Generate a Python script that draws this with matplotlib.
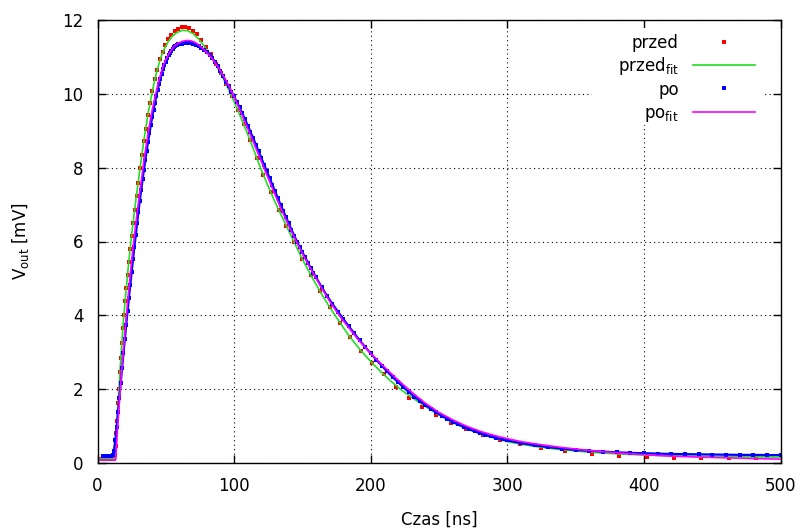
import matplotlib
matplotlib.use('Agg')
import matplotlib.pyplot as plt
from matplotlib.patches import Rectangle
from matplotlib.lines import Line2D

plt.rcParams['font.family'] = ['DejaVu Sans']
plt.rcParams['mathtext.default'] = 'regular'

# przed - measured points
t_przed = [0.5, 2, 4, 6, 8, 9.5, 9.9, 10.3, 10.7, 11.2, 11.7, 12.2, 12.7, 13.3, 13.8, 14.4,
           15.1, 15.7, 16.4, 17.1, 17.9, 18.7, 19.5, 20.3, 21.2, 22.1, 23.1, 24.1, 25.1, 26.2,
           27.4, 28.6, 29.8, 31.1, 32.5, 33.9, 35.3, 36.9, 38.5, 40.2, 41.9, 43.7, 45.6, 47.6,
           49.7, 51.9, 54.1, 56.5, 58.9, 61.5, 64.2, 67.0, 69.9, 72.9, 76.1, 79.4, 82.9, 86.5,
           90.2, 94.1, 98.2, 102.5, 107.0, 111.6, 116.5, 121.5, 126.8, 132.9, 138.3, 144.0,
           150.0, 156.3, 162.9, 169.9, 177.5, 184.8, 192.8, 201.2, 210.0, 218.7, 228.0, 237.5,
           247.8, 258.6, 269.8, 282.0, 294.9, 309.3, 324.9, 342.0, 362, 382, 402, 422, 442,
           462, 482]
v_przed = [0.1, 0.1, 0.1, 0.1, 0.1, 0.1, 0.1, 0.1, 0.11, 0.11, 0.12, 0.14, 0.22, 0.45, 0.8, 1.15,
           1.63, 2.0, 2.47, 2.85, 3.24, 3.65, 4.0, 4.38, 4.75, 5.1, 5.45, 5.8, 6.16, 6.51,
           6.86, 7.22, 7.58, 7.98, 8.35, 8.72, 9.05, 9.42, 9.74, 10.09, 10.4, 10.64, 10.95, 11.14,
           11.33, 11.48, 11.6, 11.69, 11.75, 11.8, 11.8, 11.78, 11.71, 11.61, 11.47, 11.28, 11.08, 10.82,
           10.56, 10.27, 9.95, 9.57, 9.17, 8.75, 8.27, 7.8, 7.33, 6.84, 6.42, 5.98,
           5.52, 5.08, 4.65, 4.23, 3.8, 3.41, 3.04, 2.71, 2.4, 2.05, 1.77, 1.52,
           1.3, 1.09, 0.91, 0.76, 0.62, 0.51, 0.41, 0.33, 0.25, 0.2, 0.16, 0.14, 0.14,
           0.14, 0.14]

# przed_fit
t_przed_fit = [0, 13, 14, 15, 16, 17, 18, 19, 20, 22, 24, 26, 28, 31, 34, 37, 40, 43, 46, 49,
               52, 55, 58, 62, 66, 70, 74, 78, 82, 86, 90, 94, 97.5, 101, 105, 110, 115, 119,
               124, 129, 134, 139, 144, 150, 157, 164, 170, 177, 184, 192, 200, 208, 215, 222,
               230, 240, 250, 260, 270, 280, 290, 300, 310, 320, 330, 340, 355, 370, 385, 400,
               420, 440, 460, 480, 500]
v_przed_fit = [0.12, 0.12, 0.85, 1.55, 2.2, 2.8, 3.35, 3.85, 4.3, 5.1, 5.85, 6.5, 7.1, 7.95, 8.75,
               9.45, 10.05, 10.55, 10.95, 11.23, 11.43, 11.57, 11.66, 11.72, 11.71, 11.63, 11.49,
               11.3, 11.08, 10.83, 10.56, 10.27, 10.0, 9.7, 9.35, 8.9, 8.42, 8.03, 7.58, 7.15,
               6.75, 6.37, 5.98, 5.52, 5.03, 4.58, 4.22, 3.83, 3.45, 3.08, 2.75, 2.45, 2.21, 1.99,
               1.78, 1.53, 1.3, 1.09, 0.93, 0.79, 0.68, 0.58, 0.51, 0.45, 0.4, 0.36, 0.31, 0.27,
               0.24, 0.215, 0.195, 0.18, 0.17, 0.165, 0.16]

# po - measured points
t_po = [4, 5, 6, 7, 8, 9, 10, 11, 12, 13, 14, 15, 16, 17, 18, 19, 20, 21, 22, 23, 24, 25, 26,
        27, 28, 29, 30, 31, 32, 33, 34, 35, 36, 37, 38, 39, 40, 41, 42, 43, 44, 45, 46, 47, 48,
        49, 50, 51, 52, 53, 54, 55, 56, 57, 58, 59, 60,
        62, 64, 66, 68, 70, 72, 74, 76, 78, 80, 82, 84, 86, 88, 90, 92, 94, 96, 98, 100,
        102, 104, 106, 108, 110, 112, 114, 116, 118, 120, 122, 124, 126, 128, 130, 132, 134,
        136, 138, 140, 142, 144, 146, 148, 150, 152, 154, 156, 158, 160,
        164, 168, 172, 176, 180, 184, 188, 192, 196, 200, 204, 208, 212, 216, 220, 224, 228,
        232, 236, 240, 244, 248, 252, 256, 260, 264, 268, 272, 276, 280, 284, 288, 292, 296,
        300, 310, 320, 330, 340, 350, 360, 370, 380, 390, 400, 410, 420, 430, 440, 450, 460,
        470, 480, 490, 500]
v_po = [0.19, 0.19, 0.19, 0.19, 0.19, 0.19, 0.2, 0.22, 0.32, 0.62, 0.98, 1.37, 1.77, 2.17, 2.57,
        2.97, 3.36, 3.74, 4.11, 4.47, 4.83, 5.18, 5.52, 5.85, 6.18, 6.5, 6.81, 7.11, 7.4, 7.68,
        7.95, 8.21, 8.46, 8.7, 8.93, 9.15, 9.36, 9.56, 9.75, 9.93, 10.1, 10.26, 10.41, 10.54,
        10.66, 10.77, 10.87, 10.96, 11.04, 11.11, 11.17, 11.22, 11.26, 11.29, 11.32, 11.34, 11.35,
        11.36, 11.37, 11.37, 11.37, 11.36, 11.33, 11.29, 11.24, 11.2, 11.14, 11.06, 10.97, 10.87,
        10.75, 10.62, 10.48, 10.33, 10.2, 10.06, 9.93, 9.78, 9.63, 9.47, 9.31, 9.14, 8.97, 8.8,
        8.62, 8.44, 8.26, 8.08, 7.9, 7.72, 7.54, 7.36, 7.18, 7.0, 6.83, 6.66, 6.49, 6.32, 6.16,
        6.0, 5.85, 5.71, 5.57, 5.43, 5.29, 5.16, 5.03,
        4.77, 4.53, 4.31, 4.1, 3.9, 3.7, 3.51, 3.32, 3.14, 2.97, 2.8, 2.64, 2.48, 2.33, 2.19,
        2.05, 1.92, 1.8, 1.68, 1.57, 1.47, 1.37, 1.28, 1.2, 1.12, 1.05, 0.98, 0.92, 0.86, 0.81,
        0.76, 0.72, 0.68, 0.645, 0.61,
        0.54, 0.48, 0.43, 0.39, 0.355, 0.33, 0.31, 0.29, 0.275, 0.265, 0.255, 0.245, 0.24,
        0.235, 0.23, 0.225, 0.22, 0.22, 0.215, 0.215]

# po_fit
t_po_fit = [0, 13.3, 14, 15, 16, 17, 18, 19, 20, 21, 22, 23, 24, 25, 26, 27, 28, 30, 32, 34,
            36, 38, 40, 42, 44, 46, 48, 50, 53, 56, 59, 62, 65, 68, 71, 74, 77, 80, 84, 88,
            92, 96, 100, 104, 108, 112, 116, 120, 124, 128, 132, 136, 140, 145, 150, 155, 160,
            165, 170, 175, 180, 190, 200, 210, 220, 230, 240, 250, 260, 270, 280, 290, 300,
            310, 320, 330, 340, 350, 360, 375, 390, 405, 420, 440, 460, 480, 500]
v_po_fit = [0.08, 0.08, 0.5, 1.1, 1.65, 2.15, 2.62, 3.08, 3.52, 3.94, 4.35, 4.74, 5.12, 5.48,
            5.83, 6.16, 6.48, 7.08, 7.63, 8.2, 8.7, 9.15, 9.55, 9.9, 10.22, 10.5, 10.74, 10.93,
            11.13, 11.28, 11.37, 11.42, 11.445, 11.44, 11.4, 11.33, 11.23, 11.12, 10.95, 10.74,
            10.5, 10.23, 9.92, 9.58, 9.23, 8.88, 8.52, 8.16, 7.8, 7.44, 7.09, 6.75, 6.42, 6.04,
            5.67, 5.33, 5.0, 4.68, 4.38, 4.1, 3.85, 3.38, 2.97, 2.6, 2.25, 1.92, 1.62, 1.37,
            1.17, 1.0, 0.86, 0.75, 0.66, 0.58, 0.52, 0.47, 0.42, 0.38, 0.34, 0.29, 0.25, 0.215,
            0.185, 0.16, 0.14, 0.12, 0.105]

labels = ['przed', 'przed$_{fit}$', 'po', 'po$_{fit}$']
c_red, c_green, c_blue, c_mag = '#ff0000', '#22dd22', '#0000ff', '#ff00ff'
ms_pt = 2.2

fig = plt.figure(figsize=(8.02, 5.32), dpi=100)
ax = fig.add_axes([97.5 / 802, 69 / 532, 683 / 802, 443 / 532])

ax.plot(t_przed, v_przed, 's', color=c_red, ms=ms_pt, mew=0, zorder=2)
ax.plot(t_przed_fit, v_przed_fit, color=c_green, lw=1.2, zorder=3)
ax.plot(t_po, v_po, color=c_blue, lw=1.6, zorder=4)
ax.plot(t_po, v_po, 's', color=c_blue, ms=ms_pt, mew=0, zorder=4)
ax.plot(t_po_fit, v_po_fit, color=c_mag, lw=1.2, zorder=5)

ax.set_xlim(0, 500)
ax.set_ylim(0, 12)
ax.set_xticks([0, 100, 200, 300, 400, 500])
ax.set_yticks([0, 2, 4, 6, 8, 10, 12])
ax.set_axisbelow(True)
ax.grid(True, color='black', ls=(0, (1, 3)), lw=0.8)
ax.tick_params(direction='in', top=True, right=True, length=6, width=1,
               labelsize=12, pad=10)
for s in ax.spines.values():
    s.set_linewidth(1)
    s.set_zorder(6)

ax.set_xlabel('Czas [ns]', fontsize=12)
ax.xaxis.set_label_coords(0.5, -0.108)
ax.set_ylabel('V$_{out}$ [mV]', fontsize=12)
ax.yaxis.set_label_coords(-0.098, 0.5)

# key in gnuplot style: white box, text right aligned, sample on the right
ax.add_patch(Rectangle((0.724, 0.763), 0.253, 0.219, transform=ax.transAxes,
                       fc='white', ec='none', zorder=1))
rows_px = [41.7, 64.7, 88.3, 111.7]
for i, lab in enumerate(labels):
    yc = (463 - rows_px[i]) / 443
    yb = (463 - rows_px[i] - 6.5) / 443
    ax.text(0.851, yb, lab, transform=ax.transAxes, ha='right', va='baseline',
            fontsize=12, zorder=7)
    if i == 0:
        ax.add_line(Line2D([0.917], [yc], marker='s', ms=ms_pt, mew=0, color=c_red,
                           transform=ax.transAxes, zorder=7))
    elif i == 2:
        ax.add_line(Line2D([0.917], [yc], marker='s', ms=ms_pt, mew=0, color=c_blue,
                           transform=ax.transAxes, zorder=7))
    else:
        col = c_green if i == 1 else c_mag
        ax.add_line(Line2D([0.872, 0.963], [yc, yc], color=col, lw=1.2,
                           transform=ax.transAxes, zorder=7))

fig.savefig('out.png', dpi=100)
